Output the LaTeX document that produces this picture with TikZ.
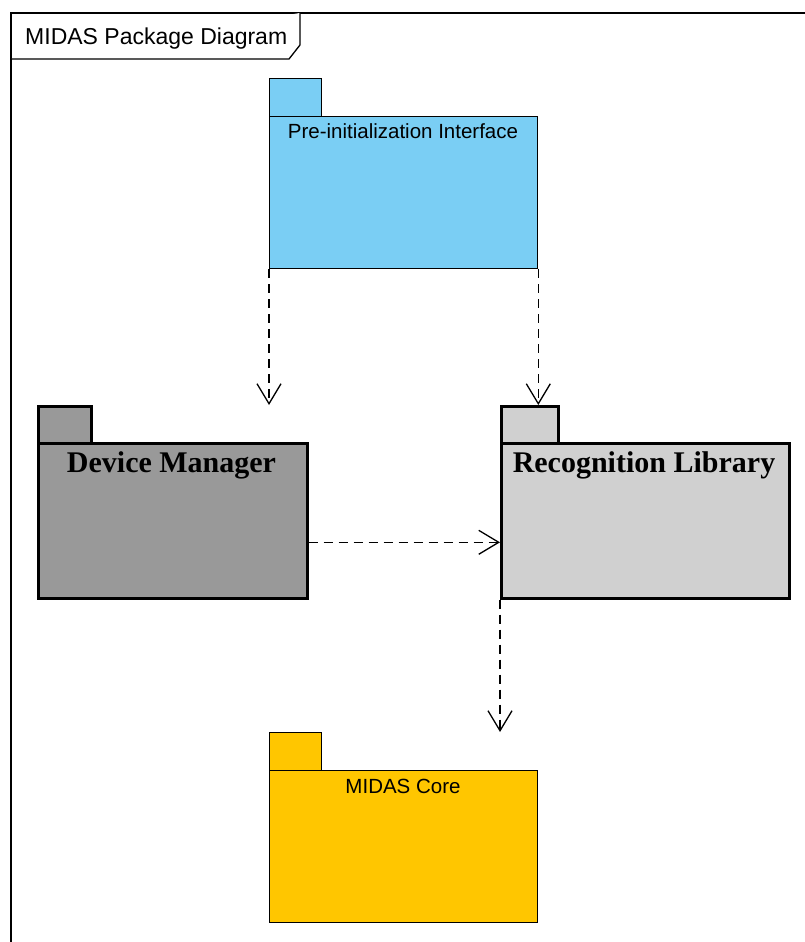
\documentclass[tikz,border=0pt]{standalone}
\usepackage{fontspec}
\setmainfont{Liberation Serif}
\newfontfamily\arialf{Liberation Sans}
\usetikzlibrary{arrows.meta}
\definecolor{piblue}{RGB}{122,206,244}
\definecolor{dmgray}{RGB}{153,153,153}
\definecolor{rlgray}{RGB}{208,208,208}
\definecolor{mcyellow}{RGB}{255,198,0}
\tikzset{
  thinpkg/.style={draw=black, line width=1.3pt, rectangle, inner sep=0pt, anchor=north west},
  thickpkg/.style={draw=black, line width=2.6pt, rectangle, inner sep=0pt, anchor=north west},
  sanslabel/.style={font=\arialf\fontsize{20.5}{24}\selectfont, anchor=base, inner sep=0pt},
  seriflabel/.style={font=\bfseries\fontsize{30}{34}\selectfont, anchor=base, inner sep=0pt},
  dep/.style={line width=1.3pt, dash pattern=on 9pt off 6pt, -{Straight Barb[length=20pt,width=24pt,line width=1.3pt]}}
}
\begin{document}
\begin{tikzpicture}[x=1pt,y=-1pt]
\useasboundingbox (0,0) rectangle (805,942);
% frame
\draw[line width=2pt] (11,942) -- (11,13) -- (805,13);
\draw[line width=1.3pt, fill=white] (11,59) -- (289,59) -- (300,45) -- (300,13);
\node[font=\arialf\fontsize{23}{27}\selectfont, anchor=base west, inner sep=0pt] (title) at (25,45) {MIDAS Package Diagram};

% Pre-initialization Interface
\node[thinpkg, fill=piblue, minimum width=52pt, minimum height=38pt] (pit) at (269,78) {};
\node[thinpkg, fill=piblue, minimum width=268pt, minimum height=152pt] (pi) at (269,116) {};
\node[sanslabel] (pil) at (403,138) {Pre-initialization Interface};

% Device Manager
\node[thickpkg, fill=dmgray, minimum width=53pt, minimum height=37pt] (dmt) at (37,405) {};
\node[thickpkg, fill=dmgray, minimum width=269pt, minimum height=155pt] (dm) at (37,442) {};
\node[seriflabel] (dml) at (171.5,472) {Device Manager};

% Recognition Library
\node[thickpkg, fill=rlgray, minimum width=57pt, minimum height=37pt] (rlt) at (500,405) {};
\node[thickpkg, fill=rlgray, minimum width=288pt, minimum height=155pt] (rl) at (500,442) {};
\node[seriflabel] (rll) at (644,472) {Recognition Library};

% MIDAS Core
\node[thinpkg, fill=mcyellow, minimum width=52pt, minimum height=38pt] (mct) at (269,732) {};
\node[thinpkg, fill=mcyellow, minimum width=268pt, minimum height=152pt] (mc) at (269,770) {};
\node[sanslabel] (mcl) at (403,793) {MIDAS Core};

% dependencies
\draw[dep] (pi.south west) -- (pi.south west |- dmt.north);
\draw[dep] (pi.south east) -- (pi.south east |- rlt.north);
\draw[dep] ([yshift=-21.5pt]dm.east) -- ([yshift=-21.5pt]rl.west);
\draw[dep] (rl.south west) -- (rl.south west |- mct.north);
\end{tikzpicture}
\end{document}
